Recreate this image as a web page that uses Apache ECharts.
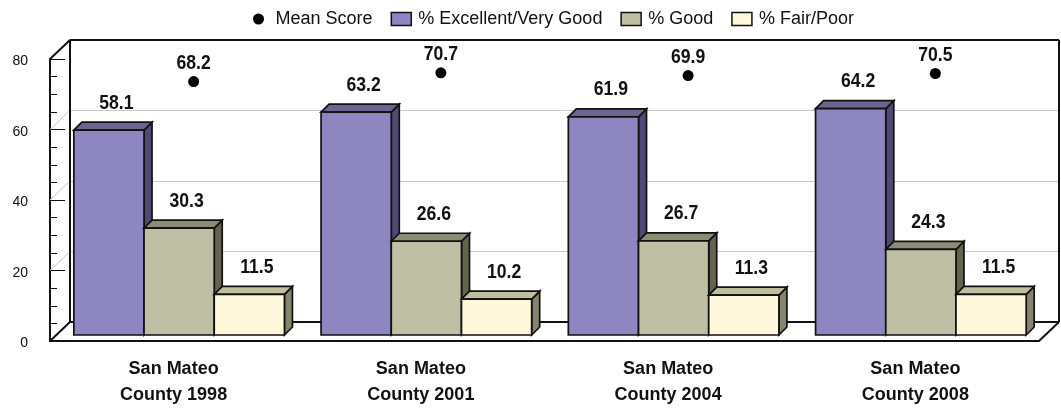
<!DOCTYPE html>
<html>
<head>
    <meta charset="UTF-8">
    <title>San Mateo County</title>
    <style type="text/css">
        *{
            margin: 0;padding: 0;
        }
        #main{
            width: 1061px;
            height: 408px;
        }
    </style>
    <script src="https://cdn.jsdelivr.net/npm/echarts@6/dist/echarts.min.js"></script>
</head>
<body>
<div id="main"></div>
<script type="text/javascript">
    var categories = ['San Mateo\nCounty 1998', 'San Mateo\nCounty 2001', 'San Mateo\nCounty 2004', 'San Mateo\nCounty 2008'];
    var meanScore = [68.2, 70.7, 69.9, 70.5];
    var excellent = [58.1, 63.2, 61.9, 64.2];
    var good = [30.3, 26.6, 26.7, 24.3];
    var fair = [11.5, 10.2, 11.3, 11.5];
    var wallTicks = [0, 20, 40, 60, 80];

    var fontName = 'Liberation Sans';
    var barW = 70.2, barDepth = 8, barShiftX = 5.5, barShiftY = -6;
    var wallX = 20, wallY = -19;

    function valueText(x, y, v) {
        return {
            type: 'text',
            x: x,
            y: y,
            scaleX: 0.88,
            style: {
                text: v.toFixed(1),
                font: 'bold 20px "' + fontName + '"',
                fill: '#111',
                align: 'center',
                verticalAlign: 'middle'
            }
        };
    }

    // one 3D box: front face, top face, side face, and the value above it
    function boxSeries(name, values, slot, colors) {
        return {
            name: name,
            type: 'custom',
            xAxisIndex: 0,
            yAxisIndex: 0,
            z: 5,
            itemStyle: {color: colors[0]},
            data: values.map(function (v, i) { return [i, v]; }),
            encode: {x: 0, y: 1},
            renderItem: function (params, api) {
                var p = api.coord([api.value(0), api.value(1)]);
                var p0 = api.coord([api.value(0), 0]);
                var left = p[0] + barShiftX - barW * 1.5 + slot * barW;
                var right = left + barW;
                var top = p[1] + barShiftY;
                var bot = p0[1] + barShiftY;
                function face(pts, fill) {
                    return {type: 'polygon', shape: {points: pts}, style: {fill: fill, stroke: '#111', lineWidth: 1.7}};
                }
                return {
                    type: 'group',
                    children: [
                        face([[right, top], [right + barDepth, top - barDepth], [right + barDepth, bot - barDepth], [right, bot]], colors[1]),
                        face([[left, top], [left + barDepth, top - barDepth], [right + barDepth, top - barDepth], [right, top]], colors[2]),
                        face([[left, top], [right, top], [right, bot], [left, bot]], colors[0]),
                        valueText((left + right) / 2 + 7.5, top - 27, api.value(1))
                    ]
                };
            }
        };
    }

    // mean score sits on the back wall, so it uses the second grid
    function meanSeries() {
        return {
            name: 'Mean Score',
            type: 'custom',
            xAxisIndex: 1,
            yAxisIndex: 1,
            z: 6,
            itemStyle: {color: '#000'},
            data: meanScore.map(function (v, i) { return [i, v]; }),
            encode: {x: 0, y: 1},
            renderItem: function (params, api) {
                var p = api.coord([api.value(0), api.value(1)]);
                return {
                    type: 'group',
                    children: [
                        {type: 'circle', shape: {cx: p[0], cy: p[1], r: 5.5}, style: {fill: '#000'}},
                        valueText(p[0], p[1] - 18, api.value(1))
                    ]
                };
            }
        };
    }

    // frame lines of the box: front floor edge, back wall edges, corners
    function frameSeries() {
        return {
            type: 'custom',
            xAxisIndex: 0,
            yAxisIndex: 0,
            z: 3,
            silent: true,
            data: [[0, 0]],
            renderItem: function (params, api) {
                var l = params.coordSys.x, r = l + params.coordSys.width;
                var b = params.coordSys.y + params.coordSys.height, t = params.coordSys.y;
                function seg(x1, y1, x2, y2) {
                    return {type: 'line', shape: {x1: x1, y1: y1, x2: x2, y2: y2}, style: {stroke: '#111', lineWidth: 2}};
                }
                return {
                    type: 'group',
                    children: [
                        seg(l, t, l + wallX, t + wallY),
                        seg(l + wallX, t + wallY, r + wallX, t + wallY),
                        seg(l + wallX, t + wallY, l + wallX, b + wallY),
                        seg(r + wallX, t + wallY, r + wallX, b + wallY),
                        seg(l + wallX, b + wallY, r + wallX, b + wallY),
                        seg(l, b, l + wallX, b + wallY),
                        seg(r, b, r + wallX, b + wallY)
                    ]
                };
            }
        };
    }

    // grey stubs that carry the gridlines from the front axis to the back wall
    function stubSeries() {
        return {
            type: 'custom',
            xAxisIndex: 0,
            yAxisIndex: 0,
            z: 1,
            silent: true,
            data: wallTicks.slice(1, 4).map(function (v) { return [0, v]; }),
            encode: {y: 1},
            renderItem: function (params, api) {
                var y = api.coord([0, api.value(1)])[1];
                var l = params.coordSys.x;
                return {type: 'line', shape: {x1: l, y1: y, x2: l + wallX, y2: y + wallY}, style: {stroke: '#c8c8c8', lineWidth: 1}};
            }
        };
    }

    var myChart = echarts.init(document.getElementById('main'));

    var option = {
        animation: false,
        legend: {
            top: 5,
            left: 246,
            itemWidth: 20,
            itemHeight: 13,
            itemGap: 18,
            textStyle: {fontFamily: fontName, fontSize: 18, color: '#111', padding: [0, 0, 0, 2]},
            data: [
                {name: 'Mean Score', icon: 'circle', itemStyle: {color: '#000', borderColor: '#fff', borderWidth: 2}},
                {name: '% Excellent/Very Good', icon: 'rect', itemStyle: {color: '#8d86c1', borderColor: '#111', borderWidth: 1.5}},
                {name: '% Good', icon: 'rect', itemStyle: {color: '#bfbfa6', borderColor: '#111', borderWidth: 1.5}},
                {name: '% Fair/Poor', icon: 'rect', itemStyle: {color: '#fff8dc', borderColor: '#111', borderWidth: 1.5}}
            ]
        },
        grid: [
            {left: 50, right: 22, top: 59, bottom: 67, outerBoundsMode: 'none'},
            {left: 70, right: 2, top: 40, bottom: 86, outerBoundsMode: 'none'}
        ],
        xAxis: [
            {
                type: 'category',
                gridIndex: 0,
                data: categories,
                axisTick: {show: false},
                axisLine: {lineStyle: {color: '#111', width: 2}},
                axisLabel: {
                    fontFamily: fontName,
                    fontWeight: 'bold',
                    fontSize: 18,
                    color: '#111',
                    lineHeight: 26,
                    margin: 15
                }
            },
            {
                type: 'category',
                gridIndex: 1,
                data: categories,
                axisTick: {show: false},
                axisLine: {show: false},
                axisLabel: {show: false}
            }
        ],
        yAxis: [
            {
                type: 'value',
                gridIndex: 0,
                min: 0,
                max: 80,
                interval: 20,
                axisLine: {show: true, lineStyle: {color: '#111', width: 2}},
                axisTick: {show: true, inside: true, length: 15, lineStyle: {color: '#111', width: 1}},
                minorTick: {show: true, splitNumber: 4, length: 7, lineStyle: {color: '#111', width: 1}},
                splitLine: {show: false},
                axisLabel: {
                    margin: 22,
                    formatter: '{t|{value}}',
                    rich: {t: {fontFamily: fontName, fontSize: 14, color: '#111', padding: [5, 0, 0, 0]}}
                }
            },
            {
                type: 'value',
                gridIndex: 1,
                min: 0,
                max: 80,
                interval: 20,
                axisLine: {show: false},
                axisTick: {show: false},
                axisLabel: {show: false},
                splitLine: {show: true, lineStyle: {color: '#c8c8c8', width: 1}}
            }
        ],
        series: [
            stubSeries(),
            frameSeries(),
            boxSeries('% Excellent/Very Good', excellent, 0, ['#8d86c1', '#4f4a75', '#6b6590']),
            boxSeries('% Good', good, 1, ['#bfbfa6', '#63634f', '#8c8c76']),
            boxSeries('% Fair/Poor', fair, 2, ['#fff8dc', '#85856f', '#c0bea0']),
            meanSeries()
        ]
    };
    myChart.setOption(option);
</script>
</body>
</html>
